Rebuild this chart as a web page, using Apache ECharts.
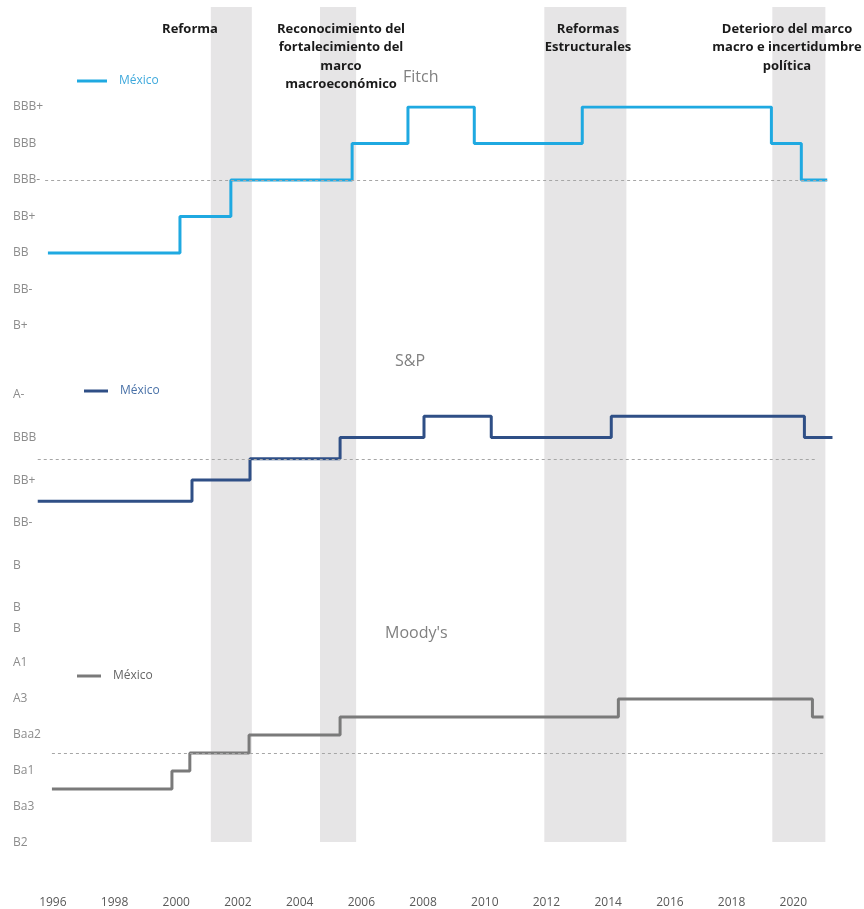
<!DOCTYPE html>
<html lang="es">
<head>
    <meta charset="UTF-8">
    <script src="https://cdn.jsdelivr.net/npm/echarts@6/dist/echarts.min.js"></script>
    <title>Calificaciones soberanas México</title>
    <style>
        html, body {
            margin: 0;
            padding: 0;
            width: 100%;
            height: 100%;
            overflow: hidden;
            background: #fff;
        }
        .my-chart {
            width: 864px;
            height: 909px;
        }
    </style>
</head>
<body>
<div class="my-chart"></div>
<script>
    // eje x (años)
    var xMin = 1995, xMax = 2022;
    var xTickLabels = ['1996', '1998', '2000', '2002', '2004', '2006', '2008', '2010', '2012', '2014', '2016', '2018', '2020'];

    // periodos sombreados [inicio, fin]
    var bands = [[2001.12, 2002.45], [2004.66, 2005.83], [2011.93, 2014.59], [2019.32, 2021.04]];
    var bandNotes = ['Reforma', 'Reconocimiento del\nfortalecimiento del\nmarco\nmacroeconómico',
        'Reformas\nEstructurales', 'Deterioro del marco\nmacro e incertidumbre\npolítica'];

    // Fitch
    var fitchScale = ['B+', 'BB-', 'BB', 'BB+', 'BBB-', 'BBB', 'BBB+'];
    var fitchTicks = ['B+', 'BB-', 'BB', 'BB+', 'BBB-', 'BBB', 'BBB+'];
    var fitchDates = [1995.84, 2000.12, 2001.77, 2005.70, 2007.51, 2009.66, 2013.16, 2019.29, 2020.26, 2021.10];
    var fitchRatings = ['BB', 'BB+', 'BBB-', 'BBB', 'BBB+', 'BBB', 'BBB+', 'BBB', 'BBB-', 'BBB-'];
    var fitchGrade = [1995.75, 2021.10];

    // S&P
    var spScale = ['B', 'B+', 'BB-', 'BB', 'BB+', 'BBB-', 'BBB', 'BBB+', 'A-'];
    var spTicks = ['B', 'B', '', 'B', '', 'BB-', '', 'BB+', '', 'BBB', '', 'A-']; // niveles -2..9
    var spDates = [1995.51, 2000.51, 2002.39, 2005.31, 2008.03, 2010.21, 2014.10, 2020.36, 2021.27];
    var spRatings = ['BB', 'BB+', 'BBB-', 'BBB', 'BBB+', 'BBB', 'BBB+', 'BBB', 'BBB'];
    var spGrade = [1995.51, 2020.75];

    // Moody's
    var moodyScale = ['B2', 'B1', 'Ba3', 'Ba2', 'Ba1', 'Baa3', 'Baa2', 'Baa1', 'A3', 'A2', 'A1'];
    var moodyTicks = ['B2', '', 'Ba3', '', 'Ba1', '', 'Baa2', '', 'A3', '', 'A1'];
    var moodyDates = [1995.97, 1999.86, 2000.44, 2002.36, 2005.31, 2014.33, 2020.62, 2020.98];
    var moodyRatings = ['Ba2', 'Ba1', 'Baa3', 'Baa2', 'Baa1', 'A3', 'Baa1', 'Baa1'];
    var moodyGrade = [1995.97, 2021.04];

    var FONT = '"Open Sans", "DejaVu Sans", sans-serif';

    function toPairs(dates, ratings, scale) {
        return dates.map(function (d, i) { return [d, scale.indexOf(ratings[i]) + 1]; });
    }

    function gradeLine(range, scale, rating) {
        var lvl = scale.indexOf(rating) + 1;
        return {
            silent: true,
            symbol: 'none',
            label: {show: false},
            lineStyle: {color: '#a6a6a6', type: [3, 3], width: 1},
            data: [[{coord: [range[0], lvl]}, {coord: [range[1], lvl]}]]
        };
    }

    function hiddenX(idx) {
        return {
            type: 'value', gridIndex: idx, min: xMin, max: xMax, interval: 1,
            axisLine: {show: false}, axisTick: {show: false},
            axisLabel: {show: false}, splitLine: {show: false}
        };
    }

    function ratingY(idx, min, max, ticks) {
        return {
            type: 'value', gridIndex: idx, min: min, max: max, interval: 1,
            axisLine: {show: false}, axisTick: {show: false}, splitLine: {show: false},
            axisLabel: {
                align: 'left', margin: 9, fontSize: 12, color: '#8c8c8c', fontFamily: FONT,
                padding: [7, 0, 0, 0],
                formatter: function (v) { return ticks[Math.round(v - min)] || ''; }
            }
        };
    }

    var myChart = echarts.init(document.querySelector('.my-chart'));

    var notePos = [[190, 20], [341, 20], [588, 20], [787, 20]];
    var titleText = {fontSize: 16, fontWeight: 'normal', color: '#808080', fontFamily: FONT};

    var option = {
        animation: false,
        textStyle: {fontFamily: FONT},
        title: [
            {text: 'Fitch', left: 403, top: 69, padding: 0, textStyle: titleText},
            {text: 'S&P', left: 395, top: 353, padding: 0, textStyle: titleText},
            {text: "Moody's", left: 385, top: 625, padding: 0, textStyle: titleText}
        ],
        legend: [
            {data: ['Fitch'], left: 77, top: 75, padding: 0, icon: 'rect', itemWidth: 30, itemHeight: 3,
                formatter: function () { return 'México'; },
                textStyle: {color: '#3fa9dc', fontSize: 12, padding: [0, 0, 0, 7]}},
            {data: ['S&P'], left: 84, top: 385, padding: 0, icon: 'rect', itemWidth: 24, itemHeight: 3,
                formatter: function () { return 'México'; },
                textStyle: {color: '#4a72a8', fontSize: 12, padding: [0, 0, 0, 7]}},
            {data: ["Moody's"], left: 77, top: 670, padding: 0, icon: 'rect', itemWidth: 24, itemHeight: 3,
                formatter: function () { return 'México'; },
                textStyle: {color: '#666666', fontSize: 12, padding: [0, 0, 0, 7]}}
        ],
        grid: [
            {left: 22, right: 9, top: 7, bottom: 65},
            {left: 22, right: 9, top: 107, bottom: 583},
            {left: 22, right: 9, top: 395, bottom: 280},
            {left: 22, right: 9, top: 663, bottom: 66}
        ],
        xAxis: [
            {
                type: 'value', gridIndex: 0, min: xMin, max: xMax, interval: 1,
                axisLine: {show: false}, axisTick: {show: false}, splitLine: {show: false},
                axisLabel: {
                    margin: 55, fontSize: 12, color: '#595959', fontFamily: FONT,
                    formatter: function (v) {
                        var s = String(v);
                        return xTickLabels.indexOf(s) >= 0 ? s : '';
                    }
                }
            },
            hiddenX(1), hiddenX(2), hiddenX(3)
        ],
        yAxis: [
            {type: 'value', gridIndex: 0, min: 0, max: 1, show: false},
            ratingY(1, 1, 7, fitchTicks),
            ratingY(2, -2, 9, spTicks),
            ratingY(3, 1, 11, moodyTicks)
        ],
        graphic: bandNotes.map(function (t, i) {
            return {
                type: 'text', x: notePos[i][0], y: notePos[i][1], z: 100,
                style: {
                    text: t, textAlign: 'center', fill: '#1a1a1a',
                    font: 'bold 13px ' + FONT, lineHeight: 18.5
                }
            };
        }),
        series: [
            {
                name: 'bands', type: 'line', xAxisIndex: 0, yAxisIndex: 0, data: [], silent: true,
                markArea: {
                    silent: true,
                    itemStyle: {color: '#e6e5e6'},
                    data: bands.map(function (b) { return [{xAxis: b[0]}, {xAxis: b[1]}]; })
                }
            },
            {
                name: 'Fitch', type: 'line', xAxisIndex: 1, yAxisIndex: 1, step: 'end',
                showSymbol: false, color: '#1fa9e1', lineStyle: {width: 3},
                data: toPairs(fitchDates, fitchRatings, fitchScale),
                markLine: gradeLine(fitchGrade, fitchScale, 'BBB-')
            },
            {
                name: 'S&P', type: 'line', xAxisIndex: 2, yAxisIndex: 2, step: 'end',
                showSymbol: false, color: '#2f4f86', lineStyle: {width: 3},
                data: toPairs(spDates, spRatings, spScale),
                markLine: gradeLine(spGrade, spScale, 'BBB-')
            },
            {
                name: "Moody's", type: 'line', xAxisIndex: 3, yAxisIndex: 3, step: 'end',
                showSymbol: false, color: '#7a7a7a', lineStyle: {width: 3},
                data: toPairs(moodyDates, moodyRatings, moodyScale),
                markLine: gradeLine(moodyGrade, moodyScale, 'Baa3')
            }
        ]
    };

    myChart.setOption(option);
</script>
</body>
</html>
